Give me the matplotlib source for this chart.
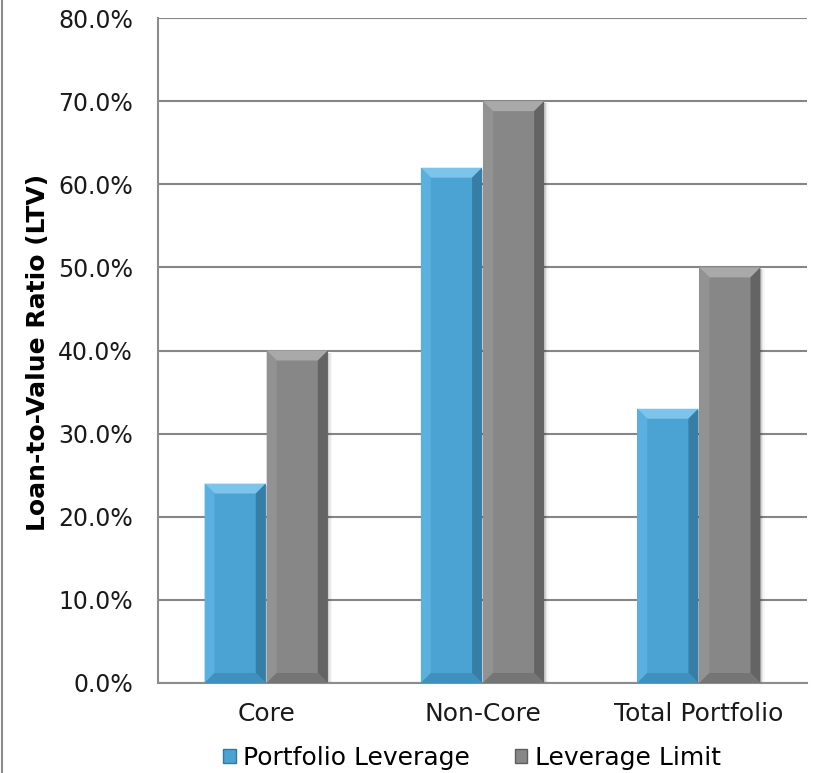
import matplotlib.pyplot as plt
from matplotlib.patches import Polygon, Rectangle
from matplotlib.lines import Line2D
from matplotlib.ticker import FuncFormatter

categories = ["Core", "Non-Core", "Total Portfolio"]
portfolio_leverage = [24.0, 62.0, 33.0]
leverage_limit = [40.0, 70.0, 50.0]
series_names = ["Portfolio Leverage", "Leverage Limit"]

# face, top bevel, left bevel, right bevel, bottom bevel
blue = ["#4aa3d3", "#86cbee", "#5db3e0", "#34789f", "#3f8dba"]
grey = ["#878787", "#b0b0b0", "#959595", "#5e5e5e", "#727272"]

W, H = 815, 773
fig = plt.figure(figsize=(W / 100, H / 100), dpi=100)
left, right, bottom, top = 158 / W, 807 / W, 1 - 683 / H, 1 - 18 / H
ax = fig.add_axes([left, bottom, right - left, top - bottom])

ymax = 80
ax.set_xlim(-0.5, 2.5)
ax.set_ylim(0, ymax)

# pixel size in data units, used for bevel widths
px_x = 3 / ((right - left) * W)
px_y = ymax / ((top - bottom) * H)
bev = 10

width = 0.283


def bevel_bar(x, h, cols):
    x0, x1 = x - width / 2, x + width / 2
    dx, dy = bev * px_x, bev * px_y
    # soft shadow on the right
    for i, a in enumerate([0.10, 0.06, 0.03]):
        ax.add_patch(Rectangle((x1, 0), (i + 1) * 1.5 * px_x, h - 2 * px_y,
                               color="black", alpha=a, lw=0, zorder=2))
    ax.bar(x, h, width, color=cols[0], zorder=3)
    polys = [
        ([(x0, h), (x1, h), (x1 - dx, h - dy), (x0 + dx, h - dy)], cols[1]),
        ([(x0, h), (x0 + dx, h - dy), (x0 + dx, dy), (x0, 0)], cols[2]),
        ([(x1, h), (x1 - dx, h - dy), (x1 - dx, dy), (x1, 0)], cols[3]),
        ([(x0, 0), (x0 + dx, dy), (x1 - dx, dy), (x1, 0)], cols[4]),
    ]
    for pts, c in polys:
        ax.add_patch(Polygon(pts, closed=True, color=c, lw=0, zorder=4, alpha=0.85))


for i in range(len(categories)):
    bevel_bar(i - width / 2 - 0.002, portfolio_leverage[i], blue)
    bevel_bar(i + width / 2 + 0.002, leverage_limit[i], grey)

font = "DejaVu Sans"
ax.set_yticks(range(0, ymax + 1, 10))
ax.yaxis.set_major_formatter(FuncFormatter(lambda v, p: f"{v:.1f}%"))
ax.set_xticks(range(len(categories)))
ax.set_xticklabels(categories)
ax.tick_params(length=0, colors="#1a1a1a")
ax.tick_params(axis="y", labelsize=17, pad=18)
ax.tick_params(axis="x", labelsize=18, pad=14)
for lab in ax.get_xticklabels() + ax.get_yticklabels():
    lab.set_family(font)

ax.grid(axis="y", color="#868686", lw=1.5, zorder=0)
ax.set_axisbelow(True)
for s in ["top", "right"]:
    ax.spines[s].set_visible(False)
for s in ["left", "bottom"]:
    ax.spines[s].set_color("#8c8c8c")
    ax.spines[s].set_linewidth(1.5)

fig.text(38 / W, 1 - 352 / H, "Loan-to-Value Ratio (LTV)", rotation=90,
         ha="center", va="center", fontsize=18, fontweight="bold",
         family=["DejaVu Sans Condensed", "DejaVu Sans"])

handles = [Rectangle((0, 0), 1, 1, facecolor=blue[0], edgecolor=blue[3], lw=1),
           Rectangle((0, 0), 1, 1, facecolor=grey[0], edgecolor=grey[3], lw=1)]
fig.legend(handles, series_names, loc="center", ncol=2, frameon=False,
           bbox_to_anchor=(472 / W, 1 - 758 / H),
           handlelength=0.5, handleheight=0.5, handletextpad=0.3,
           columnspacing=1.8, borderpad=0, prop={"family": font, "size": 18})

# thin grey rule along the left edge
fig.add_artist(Line2D([1.5 / W, 1.5 / W], [0, 1], color="#8c8c8c", lw=1.5))

fig.savefig("out.png", dpi=100)
